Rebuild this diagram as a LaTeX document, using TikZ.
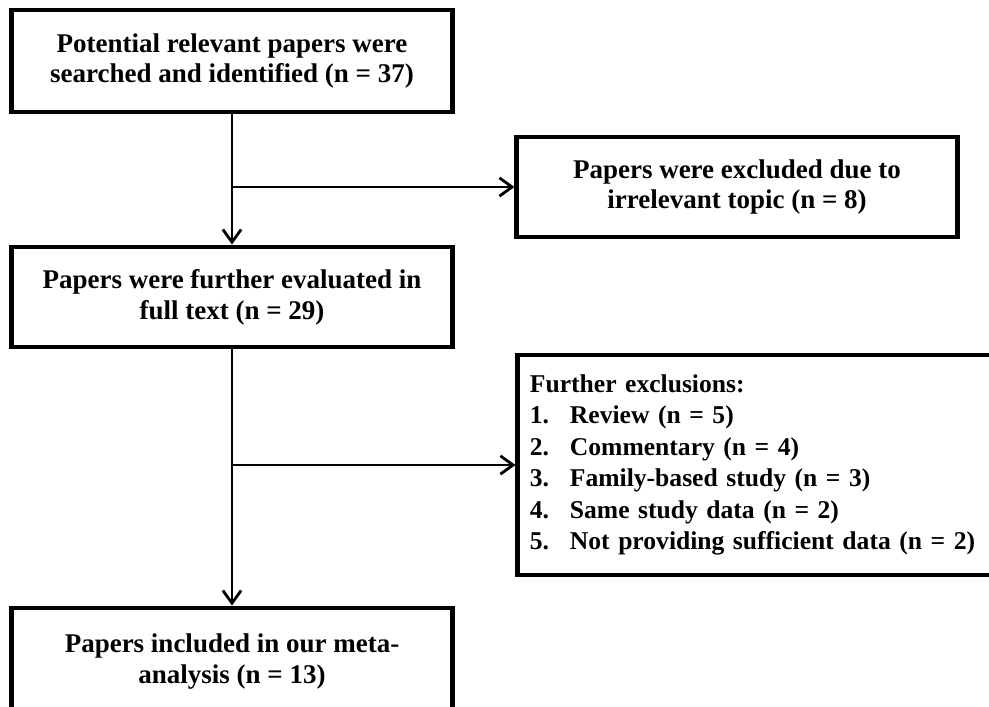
\documentclass[tikz,border=0pt]{standalone}
\usepackage{fontspec}
\setmainfont{Liberation Serif}
\usetikzlibrary{arrows.meta}
\tikzset{ > = {Straight Barb[length=9pt, width=13pt]} }

\begin{document}
\begin{tikzpicture}
  [
    x = 0.025cm, y = -0.025cm,
    every node/.style = { font = \bfseries\fontsize{19.2}{22}\selectfont },
    box/.style = { draw, rectangle, line width = 3.5pt, minimum width = 11cm, align = center },
    link/.style = { ->, line width = 2pt }
  ]
    \useasboundingbox (0,0) rectangle (989,706);
    \clip (0,0) rectangle (989,706);
    \node (a) [box, minimum height = 2.55cm] at (232,61) {Potential relevant papers were\\ searched and identified (n = 37)};
    \node (b) [box, minimum height = 2.5cm] at (737,187) {Papers were excluded due to\\ irrelevant topic (n = 8)};
    \node (c) [box, minimum height = 2.5cm] at (232,297) {Papers were further evaluated in\\ full text (n = 29)};
    \node (d) [draw, rectangle, line width = 3.5pt, text width = 13cm, inner xsep = 0.3cm,
               minimum height = 5.5cm, align = left,
               font = \bfseries\fontsize{18.2}{22.4}\selectfont] at (790,465)
      {Further exclusions:\\
       \makebox[1cm][l]{1.}Review (n = 5)\\
       \makebox[1cm][l]{2.}Commentary (n = 4)\\
       \makebox[1cm][l]{3.}Family-based study (n = 3)\\
       \makebox[1cm][l]{4.}Same study data (n = 2)\\
       \makebox[1cm][l]{5.}Not providing sufficient data (n = 2)};
    \node (e) [box, minimum height = 2.7cm] at (232,662) {Papers included in our meta-\\ analysis (n = 13)};
    \coordinate (j1) at (232,187);
    \coordinate (j2) at (232,465);
    \draw [link] (a) -- (c);
    \draw [link] (j1) -- (b);
    \draw [link] (c) -- (e);
    \draw [link] (j2) -- (j2 -| d.west);
\end{tikzpicture}
\end{document}
